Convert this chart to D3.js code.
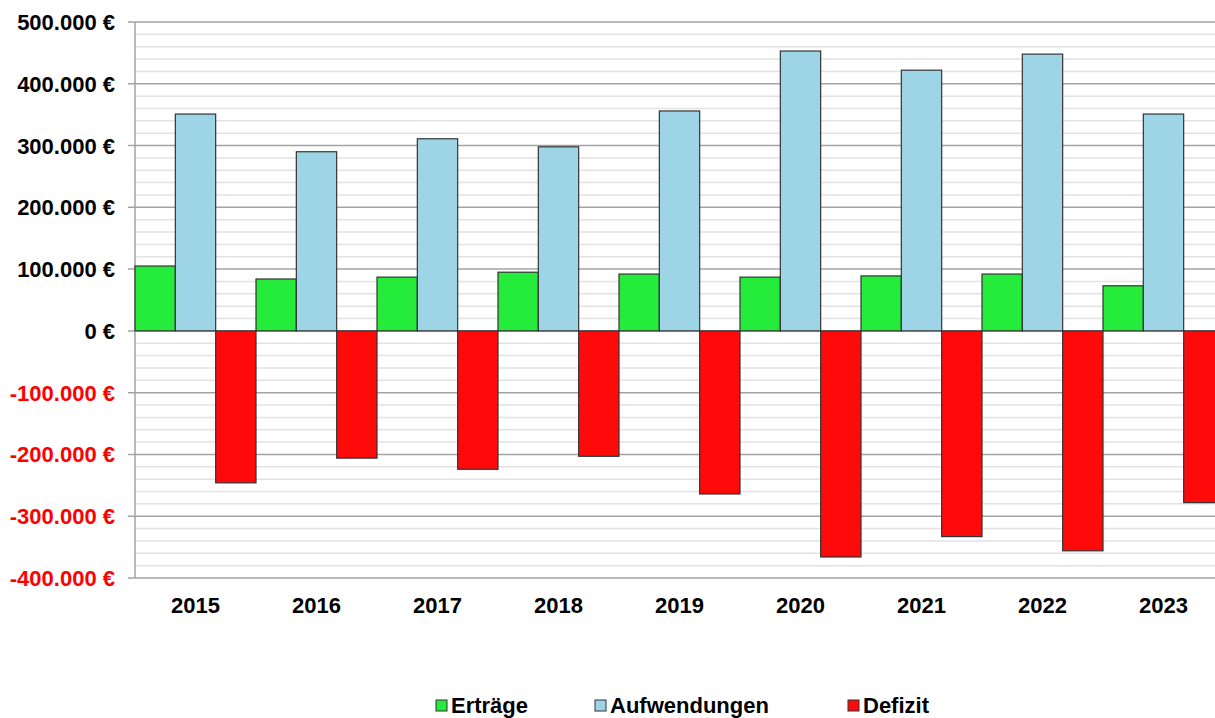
<!DOCTYPE html>
<html>
<head>
<meta charset="utf-8">
<script src="https://cdn.jsdelivr.net/npm/d3@7"></script>
<style>
  body { margin: 0; background: #fff; }
  svg { display: block; font-family: "Liberation Sans", Arial, sans-serif; font-weight: bold; }
</style>
</head>
<body>
<div id="chart"></div>
<script>
// data
const years = ["2015", "2016", "2017", "2018", "2019", "2020", "2021", "2022", "2023"];
const ertraege = [105000, 84000, 87000, 95000, 92000, 87000, 89000, 92000, 73000];
const aufwendungen = [351000, 290000, 311000, 298000, 356000, 453000, 422000, 448000, 351000];
const defizit = [-246000, -206000, -224000, -203000, -264000, -366000, -333000, -356000, -278000];
const seriesNames = ["Erträge", "Aufwendungen", "Defizit"];
const seriesColors = ["#25ec3a", "#9dd5e6", "#ff0a0a"];
const yTicks = [-400000, -300000, -200000, -100000, 0, 100000, 200000, 300000, 400000, 500000];

const svgWidth = 1215, svgHeight = 718;
const svg = d3.select("#chart").append("svg")
    .attr("width", svgWidth)
    .attr("height", svgHeight);

const plotLeft = 135, plotTop = 22, plotBottom = 578;
const x = d3.scaleBand().domain(years).range([plotLeft, plotLeft + 9 * 121]).padding(0);
const x1 = d3.scaleBand().domain(seriesNames).range([0, x.bandwidth()]).padding(0);
const y = d3.scaleLinear().domain([-400000, 500000]).range([plotBottom, plotTop]);

const fmt = v => d3.format(",")(v).replace(/,/g, ".").replace("−", "-") + " €";

// minor gridlines
svg.append("g").selectAll("line")
    .data(d3.range(-400000, 500001, 20000).filter(v => v % 100000 !== 0))
    .enter().append("line")
    .attr("x1", plotLeft).attr("x2", svgWidth)
    .attr("y1", d => y(d)).attr("y2", d => y(d))
    .attr("stroke", "#e2e2e2").attr("stroke-width", 1.5);

// major gridlines
svg.append("g").selectAll("line")
    .data(yTicks)
    .enter().append("line")
    .attr("x1", plotLeft - 7).attr("x2", svgWidth)
    .attr("y1", d => y(d)).attr("y2", d => y(d))
    .attr("stroke", "#a3a3a3").attr("stroke-width", 1.5);

// left axis line
svg.append("line")
    .attr("x1", plotLeft).attr("x2", plotLeft)
    .attr("y1", y(500000)).attr("y2", y(-400000))
    .attr("stroke", "#a3a3a3").attr("stroke-width", 1.5);

// y labels
svg.append("g").selectAll("text")
    .data(yTicks)
    .enter().append("text")
    .attr("x", 115)
    .attr("y", d => y(d) + 8)
    .attr("text-anchor", "end")
    .attr("font-size", 22)
    .attr("fill", d => d < 0 ? "#ff0000" : "#000")
    .text(fmt);

// bars
const rows = years.map((yr, i) => ({ year: yr, values: [ertraege[i], aufwendungen[i], defizit[i]] }));
const groups = svg.append("g").selectAll("g")
    .data(rows)
    .enter().append("g")
    .attr("transform", d => "translate(" + x(d.year) + ",0)");

groups.selectAll("rect")
    .data(d => d.values.map((v, j) => ({ name: seriesNames[j], value: v, color: seriesColors[j] })))
    .enter().append("rect")
    .attr("x", d => x1(d.name))
    .attr("width", x1.bandwidth())
    .attr("y", d => y(Math.max(0, d.value)))
    .attr("height", d => Math.abs(y(d.value) - y(0)))
    .attr("fill", d => d.color)
    .attr("stroke", "#333")
    .attr("stroke-width", 1.2);

// x labels
svg.append("g").selectAll("text")
    .data(years)
    .enter().append("text")
    .attr("x", d => x(d) + x.bandwidth() / 2)
    .attr("y", 613)
    .attr("text-anchor", "middle")
    .attr("font-size", 22)
    .attr("fill", "#000")
    .text(d => d);

// legend
const legendX = [436, 595, 848];
const legend = svg.append("g").selectAll("g")
    .data(seriesNames)
    .enter().append("g")
    .attr("transform", (d, i) => "translate(" + legendX[i] + ",700)");
legend.append("rect")
    .attr("width", 11).attr("height", 11)
    .attr("fill", (d, i) => seriesColors[i])
    .attr("stroke", "#333").attr("stroke-width", 1);
legend.append("text")
    .attr("x", 15).attr("y", 13)
    .attr("font-size", 22)
    .attr("fill", "#000")
    .text(d => d);
</script>
</body>
</html>
